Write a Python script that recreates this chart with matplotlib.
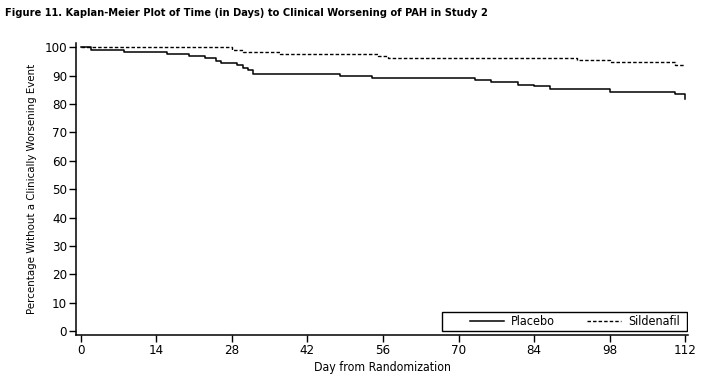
import matplotlib
matplotlib.use("Agg")
import matplotlib.pyplot as plt
from matplotlib.patches import Rectangle

# ── Kaplan-Meier estimates ────────────────────────────────
placebo_days = [0, 2, 8, 16, 20, 23, 25, 26, 29, 30, 31, 32, 48, 54,
                73, 76, 81, 84, 87, 98, 110, 112]
placebo_pct = [100, 99.2, 98.3, 97.6, 96.9, 96.2, 95.3, 94.5, 93.7, 92.8,
               92.1, 90.6, 89.9, 89.1, 88.6, 87.8, 86.8, 86.2, 85.4, 84.3,
               83.6, 81.6]

sild_days = [0, 28, 30, 37, 55, 57, 92, 98, 110, 112]
sild_pct = [100, 99.1, 98.3, 97.6, 96.8, 96.2, 95.4, 94.7, 93.6, 93.6]

x_ticks = [0, 14, 28, 42, 56, 70, 84, 98, 112]
y_ticks = list(range(0, 101, 10))

plt.rcParams["font.family"] = ["DejaVu Sans"]
plt.rcParams["font.stretch"] = "condensed"

fig = plt.figure(figsize=(7.03, 3.76), dpi=100)
ax = fig.add_axes([0.1081, 0.1090, 0.8706, 0.7766])

ax.step(placebo_days, placebo_pct, where="post", color="black", lw=1.1,
        label="Placebo")
ax.step(sild_days, sild_pct, where="post", color="black", lw=1.0,
        dashes=(2.5, 1.5), label="Sildenafil")

ax.set_xlim(-0.87, 112.5)
ax.set_ylim(-1.4, 101.5)
ax.set_xticks(x_ticks)
ax.set_yticks(y_ticks)
ax.tick_params(direction="out", length=5, width=1, labelsize=9.5, pad=1.5)
for side in ("top", "right"):
    ax.spines[side].set_visible(False)
for side in ("left", "bottom"):
    ax.spines[side].set_linewidth(1.1)

ax.set_xlabel("Day from Randomization", fontsize=8.8, labelpad=3)
ax.set_ylabel("Percentage Without a Clinically Worsening Event",
              fontsize=8.2)
ax.yaxis.set_label_coords(-0.064, 0.5)

# legend box sits flush with the axis corner
ax.add_patch(Rectangle((0.5975, 0.0147), 0.4005, 0.063, transform=ax.transAxes,
                       facecolor="white", edgecolor="black", lw=1.0,
                       zorder=4))
leg = ax.legend(ncol=2, loc="center", bbox_to_anchor=(0.815, 0.046),
                borderaxespad=0, frameon=False, fontsize=9,
                handlelength=2.7, columnspacing=2.6, handletextpad=0.55,
                borderpad=0)
leg.set_zorder(5)

fig.text(0.007, 0.965, "Figure 11. Kaplan-Meier Plot of Time (in Days) to "
         "Clinical Worsening of PAH in Study 2", fontsize=7.9,
         fontweight="bold", va="center", ha="left")

fig.savefig("out.png", dpi=100)
